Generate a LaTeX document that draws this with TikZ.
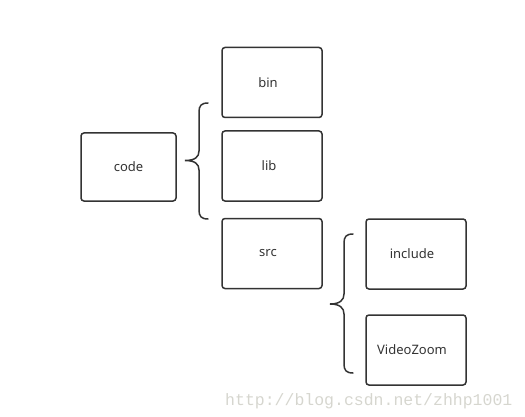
\documentclass[tikz,border=0pt]{standalone}
\usepackage{fontspec}
\setmainfont{Noto Sans}
\newfontfamily\wmfont{Liberation Mono}
\definecolor{boxline}{HTML}{333333}
\definecolor{wmgray}{HTML}{D6D6CF}
\newcommand{\lft}[1]{\hspace*{-8pt}#1}
\begin{document}
\begin{tikzpicture}[x=1pt,y=-1pt,
  dirbox/.style={draw=boxline, line width=1.5pt, rounded corners=3pt,
    minimum width=100pt, minimum height=70pt, inner sep=0pt,
    font=\fontsize{13}{15}\selectfont, text=boxline},
  bracepath/.style={draw=boxline, line width=1.5pt, line cap=round}]
\useasboundingbox (0,0) rectangle (525,417);
\node[dirbox, minimum width=95pt, minimum height=68pt] (code) at (128.5,167) {code};
\node[dirbox] (bin) at (272,82.5) {\lft{bin}};
\node[dirbox] (lib) at (272,166) {\hspace*{-6pt}lib};
\node[dirbox] (src) at (272,253.5) {\lft{src}};
\node[dirbox] (include) at (416,254) {\lft{include}};
\node[dirbox] (vz) at (416,350) {\lft{VideoZoom}};
% brace from code to bin/lib/src
\coordinate (b1tip) at (185,160.5);
\coordinate (b1top) at (208,103);
\coordinate (b1bot) at (208,219);
\draw[bracepath] (b1top) .. controls (201,103) and (199,106) .. (199,112)
  -- (199,151) .. controls (199,157) and (195,160.5) .. (b1tip)
  .. controls (195,160.5) and (199,164) .. (199,170)
  -- (199,210) .. controls (199,216) and (201,219) .. (b1bot);
% brace from src to include/VideoZoom
\coordinate (b2tip) at (330,304);
\coordinate (b2top) at (353,234);
\coordinate (b2bot) at (353,373);
\draw[bracepath] (b2top) .. controls (346,234) and (344,237) .. (344,243)
  -- (344,294) .. controls (344,300) and (340,304) .. (b2tip)
  .. controls (340,304) and (344,308) .. (344,314)
  -- (344,364) .. controls (344,370) and (346,373) .. (b2bot);
\node[font=\wmfont\fontsize{16.5}{18}\selectfont, text=wmgray, anchor=base west, inner sep=0pt] (wm) at (225,405) {http://blog.csdn.net/zhhp1001};
\end{tikzpicture}
\end{document}
